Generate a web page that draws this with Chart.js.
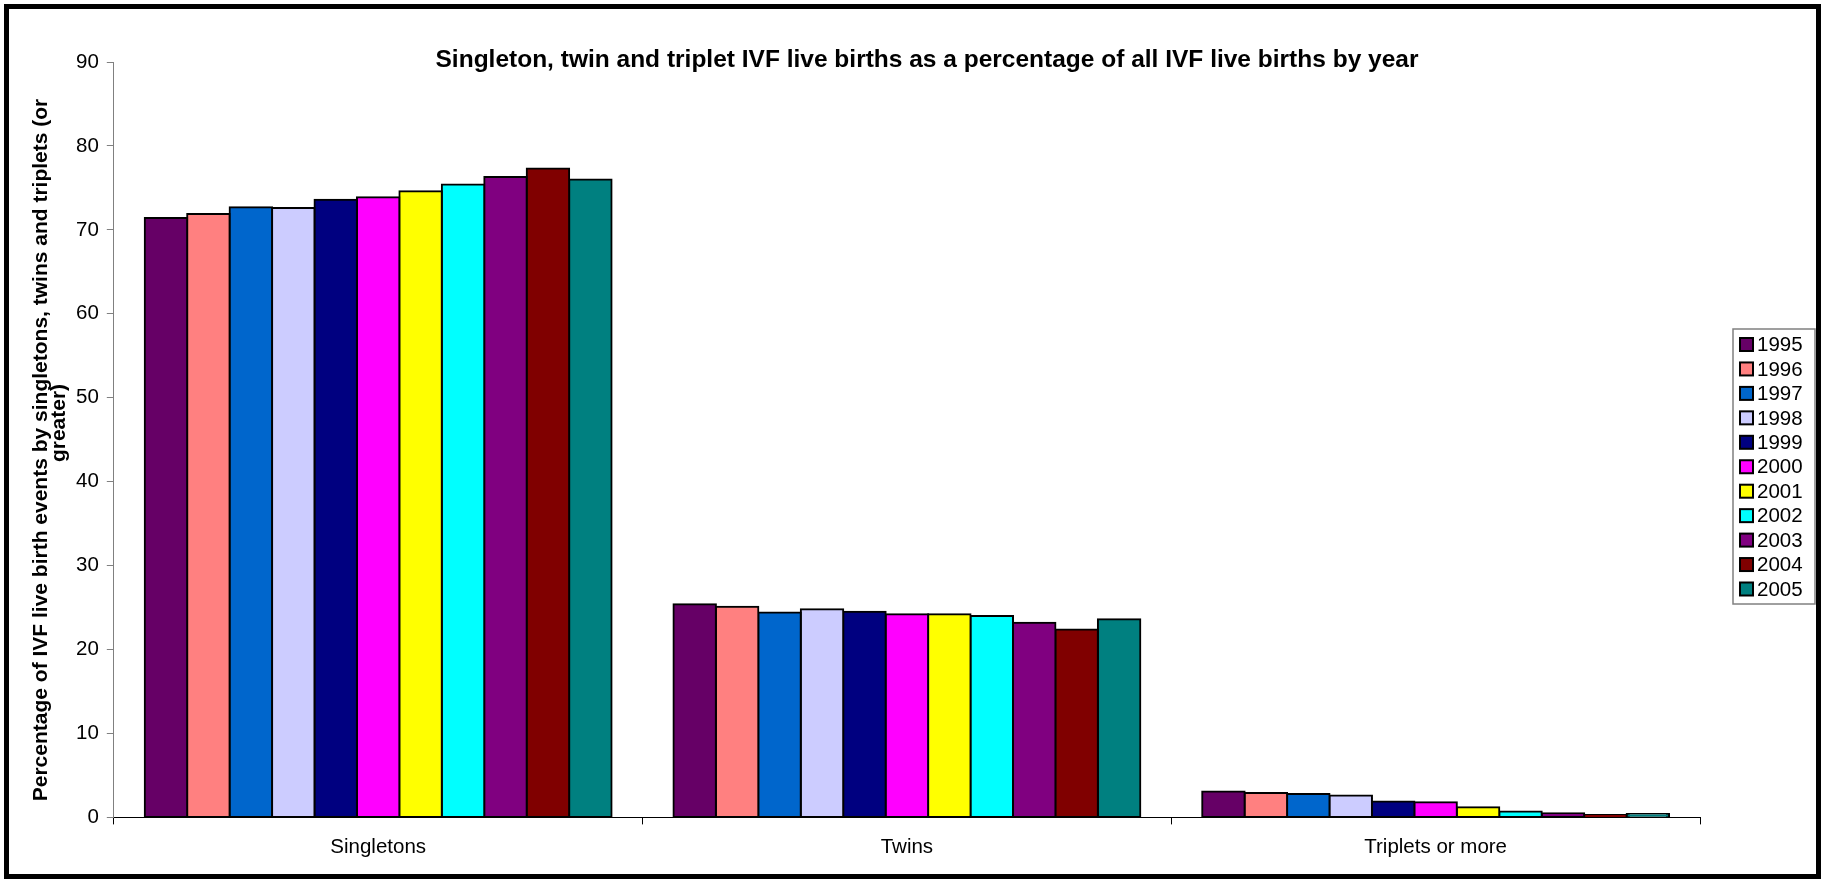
<!DOCTYPE html>
<html><head><meta charset="utf-8">
<script src="https://cdn.jsdelivr.net/npm/chart.js@4/dist/chart.umd.min.js"></script>
<style>html,body{margin:0;padding:0;background:#fff;overflow:hidden}#wrap{width:1825px;height:883px;position:relative}</style>
</head><body><div id="wrap"><canvas id="c" width="1825" height="883"></canvas></div>
<script>
const categories = ['Singletons', 'Twins', 'Triplets or more'];
const years = ['1995','1996','1997','1998','1999','2000','2001','2002','2003','2004','2005'];
const singletons = [71.4, 71.9, 72.7, 72.6, 73.6, 73.9, 74.6, 75.4, 76.3, 77.3, 76.0];
const twins      = [25.4, 25.1, 24.4, 24.8, 24.5, 24.2, 24.2, 24.0, 23.2, 22.4, 23.6];
const triplets   = [3.1, 2.9, 2.8, 2.6, 1.9, 1.8, 1.2, 0.7, 0.5, 0.3, 0.4];
const yearColors = ['#660066','#FF8080','#0066CC','#CCCCFF','#000080','#FF00FF','#FFFF00','#00FFFF','#800080','#800000','#008080'];
const yMin = 0, yMax = 90, yStep = 10;
const chartTitle = 'Singleton, twin and triplet IVF live births as a percentage of all IVF live births by year';
const yTitleLines = ['Percentage of IVF live birth events by singletons, twins and triplets (or', 'greater)'];

const FONT = '"Liberation Sans", Arial, sans-serif';

const datasets = years.map((y, i) => ({
  label: y,
  data: [singletons[i], twins[i], triplets[i]],
  backgroundColor: yearColors[i],
  borderColor: '#000',
  borderWidth: 2,
  borderSkipped: false,
  inflateAmount: 1,
  categoryPercentage: 0.883,
  barPercentage: 1.0
}));

const decor = {
  id: 'decor',
  afterDraw(chart) {
    const ctx = chart.ctx, ca = chart.chartArea;
    ctx.save();
    // title
    ctx.fillStyle = '#000';
    ctx.font = 'bold 24.5px ' + FONT;
    ctx.textAlign = 'center';
    ctx.textBaseline = 'middle';
    ctx.fillText(chartTitle, 927, 60);
    // y-axis title
    ctx.font = 'bold 21px ' + FONT;
    ctx.save();
    ctx.translate(41, 450);
    ctx.rotate(-Math.PI / 2);
    ctx.fillText(yTitleLines[0], 0, 0);
    ctx.restore();
    ctx.save();
    ctx.translate(59, 423);
    ctx.rotate(-Math.PI / 2);
    ctx.fillText(yTitleLines[1], 0, 0);
    ctx.restore();
    // legend
    const lx = ca.right + 33, ly = 329, lw = 82, lh = 275;
    ctx.strokeStyle = '#808080';
    ctx.lineWidth = 1.5;
    ctx.strokeRect(lx, ly, lw, lh);
    ctx.font = '20.5px ' + FONT;
    ctx.textAlign = 'left';
    chart.data.datasets.forEach((ds, i) => {
      const rowY = ly + 15.5 + i * 24.45;
      ctx.fillStyle = ds.backgroundColor;
      ctx.fillRect(lx + 7, rowY - 6.5, 13, 13);
      ctx.strokeStyle = '#000';
      ctx.lineWidth = 2;
      ctx.strokeRect(lx + 7, rowY - 6.5, 13, 13);
      ctx.fillStyle = '#000';
      ctx.fillText(ds.label, lx + 24, rowY + 1);
    });
    // outer border
    ctx.strokeStyle = '#000';
    ctx.lineWidth = 5;
    ctx.strokeRect(6.5, 6.5, 1825 - 13, 883 - 13);
    ctx.restore();
  }
};

new Chart(document.getElementById('c'), {
  type: 'bar',
  data: { labels: categories, datasets },
  options: {
    responsive: false,
    animation: false,
    devicePixelRatio: 1,
    layout: { padding: { left: 68, right: 125, top: 62, bottom: 12 } },
    plugins: { legend: { display: false }, title: { display: false }, tooltip: { enabled: false } },
    scales: {
      x: {
        grid: { display: true, drawOnChartArea: false, drawTicks: true, tickLength: 7, color: '#000', offset: true },
        border: { display: true, color: '#000', width: 1 },
        ticks: { color: '#000', font: { size: 20.5, family: FONT }, padding: 11 }
      },
      y: {
        min: yMin, max: yMax,
        grid: { display: true, drawOnChartArea: false, drawTicks: true, tickLength: 7, color: '#808080' },
        border: { display: true, color: '#808080', width: 1 },
        ticks: { stepSize: yStep, color: '#000', font: { size: 20.5, family: FONT }, padding: 8 }
      }
    }
  },
  plugins: [decor]
});
</script>
</body></html>
